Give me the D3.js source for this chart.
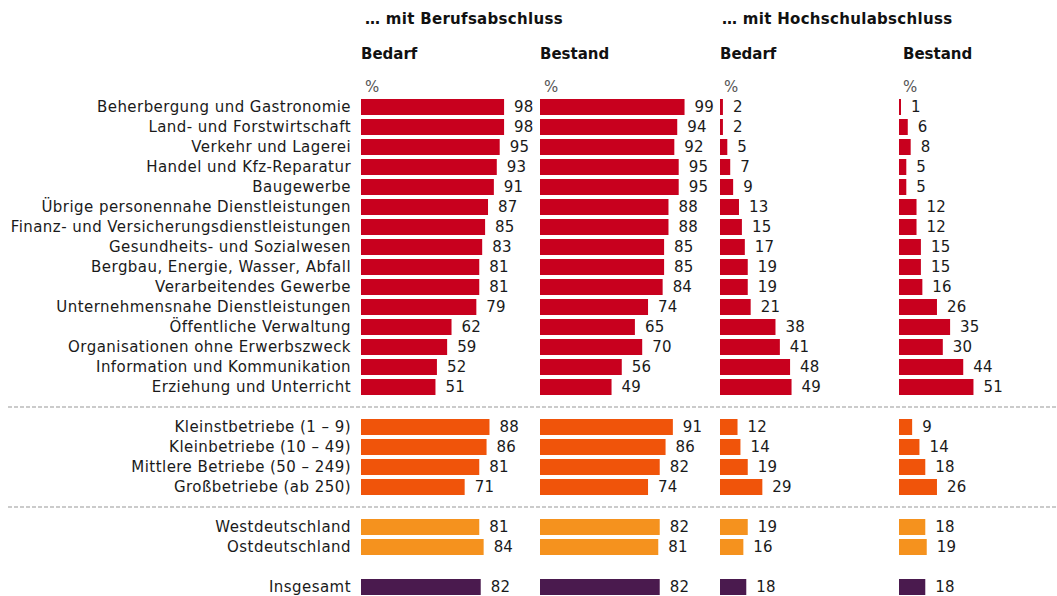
<!DOCTYPE html>
<meta charset="utf-8">
<title>Berufsabschluss / Hochschulabschluss</title>
<script src="https://d3js.org/d3.v7.min.js"></script>
<style>
  body { margin: 0; background: #fff; }
  text { font-family: "DejaVu Sans", Verdana, sans-serif; }
</style>
<body>
<script>

// rows: label, slot index (gaps at 15, 20, 23), group
var labels = [
  "Beherbergung und Gastronomie", "Land- und Forstwirtschaft", "Verkehr und Lagerei",
  "Handel und Kfz-Reparatur", "Baugewerbe", "Übrige personennahe Dienstleistungen",
  "Finanz- und Versicherungsdienstleistungen", "Gesundheits- und Sozialwesen",
  "Bergbau, Energie, Wasser, Abfall", "Verarbeitendes Gewerbe",
  "Unternehmensnahe Dienstleistungen", "Öffentliche Verwaltung",
  "Organisationen ohne Erwerbszweck", "Information und Kommunikation",
  "Erziehung und Unterricht",
  "Kleinstbetriebe (1 – 9)", "Kleinbetriebe (10 – 49)",
  "Mittlere Betriebe (50 – 249)", "Großbetriebe (ab 250)",
  "Westdeutschland", "Ostdeutschland",
  "Insgesamt"
];
var slots  = [0,1,2,3,4,5,6,7,8,9,10,11,12,13,14, 16,17,18,19, 21,22, 24];
var groups = [0,0,0,0,0,0,0,0,0,0,0,0,0,0,0, 1,1,1,1, 2,2, 3];

var berufBedarf   = [98,98,95,93,91,87,85,83,81,81,79,62,59,52,51, 88,86,81,71, 81,84, 82];
var berufBestand  = [99,94,92,95,95,88,88,85,85,84,74,65,70,56,49, 91,86,82,74, 82,81, 82];
var hochBedarf    = [2,2,5,7,9,13,15,17,19,19,21,38,41,48,49, 12,14,19,29, 19,16, 18];
var hochBestand   = [1,6,8,5,5,12,12,15,15,16,26,35,30,44,51, 9,14,18,26, 18,19, 18];

var panelTitles = ["Bedarf", "Bestand", "Bedarf", "Bestand"];
var groupTitles = ["… mit Berufsabschluss", "…  mit Hochschulabschluss"];
var gapSlots = [15, 20];
var colors = ["#c8001e", "#f0540a", "#f5921e", "#4a1a4e"];

var width = 1057, height = 596;
var svg = d3.select("body").append("svg")
    .attr("width", width).attr("height", height);

// 25 slots, 20px step, first row centred at ~107
var y = d3.scaleBand().domain(d3.range(25)).range([97, 597]).paddingInner(0.2).paddingOuter(0.1);

var x = d3.scaleLinear().domain([0, 100]).range([0, 146]);
var panelX = [361, 540, 720, 899];
var series = [berufBedarf, berufBestand, hochBedarf, hochBestand];

// group titles
svg.selectAll(".gtitle").data(groupTitles).join("text")
    .attr("x", function(d, i) { return [365, 722][i]; })
    .attr("y", 24)
    .attr("font-size", 15).attr("font-weight", "bold").attr("fill", "#111")
    .attr("letter-spacing", 0.3)
    .text(function(d) { return d; });

// panel titles and %
svg.selectAll(".ptitle").data(panelTitles).join("text")
    .attr("x", function(d, i) { return panelX[i] + (i == 3 ? 4 : 0); })
    .attr("y", 59)
    .attr("font-size", 15).attr("font-weight", "bold").attr("fill", "#111")
    .text(function(d) { return d; });

svg.selectAll(".pct").data(panelX).join("text")
    .attr("x", function(d) { return d + 4; })
    .attr("y", 92)
    .attr("font-size", 15).attr("fill", "#555")
    .text("%");

// dashed separators
svg.selectAll(".sep").data(gapSlots).join("line")
    .attr("x1", 8).attr("x2", width)
    .attr("y1", function(d) { return y(d) + y.bandwidth() / 2; })
    .attr("y2", function(d) { return y(d) + y.bandwidth() / 2; })
    .attr("stroke", "#bbb").attr("stroke-width", 1.5).attr("stroke-dasharray", "4,2");

// row labels
svg.selectAll(".label").data(labels).join("text")
    .attr("x", 351)
    .attr("y", function(d, i) { return y(slots[i]) + y.bandwidth() / 2; })
    .attr("dy", "0.36em")
    .attr("text-anchor", "end")
    .attr("font-size", 15).attr("letter-spacing", 0.45).attr("fill", "#1a1a1a")
    .text(function(d) { return d; });

// bars and values per panel
series.forEach(function(vals, p) {
  var g = svg.append("g").attr("transform", "translate(" + panelX[p] + ",0)");
  g.selectAll("rect").data(vals).join("rect")
      .attr("x", 0)
      .attr("y", function(d, i) { return y(slots[i]); })
      .attr("width", function(d) { return Math.max(x(d), 2); })
      .attr("height", y.bandwidth())
      .attr("fill", function(d, i) { return colors[groups[i]]; });
  g.selectAll("text").data(vals).join("text")
      .attr("x", function(d) { return Math.max(x(d), 2) + 10; })
      .attr("y", function(d, i) { return y(slots[i]) + y.bandwidth() / 2; })
      .attr("dy", "0.36em")
      .attr("font-size", 15).attr("letter-spacing", 0.2).attr("fill", "#1a1a1a")
      .text(function(d) { return d; });
});

</script>
</body>
